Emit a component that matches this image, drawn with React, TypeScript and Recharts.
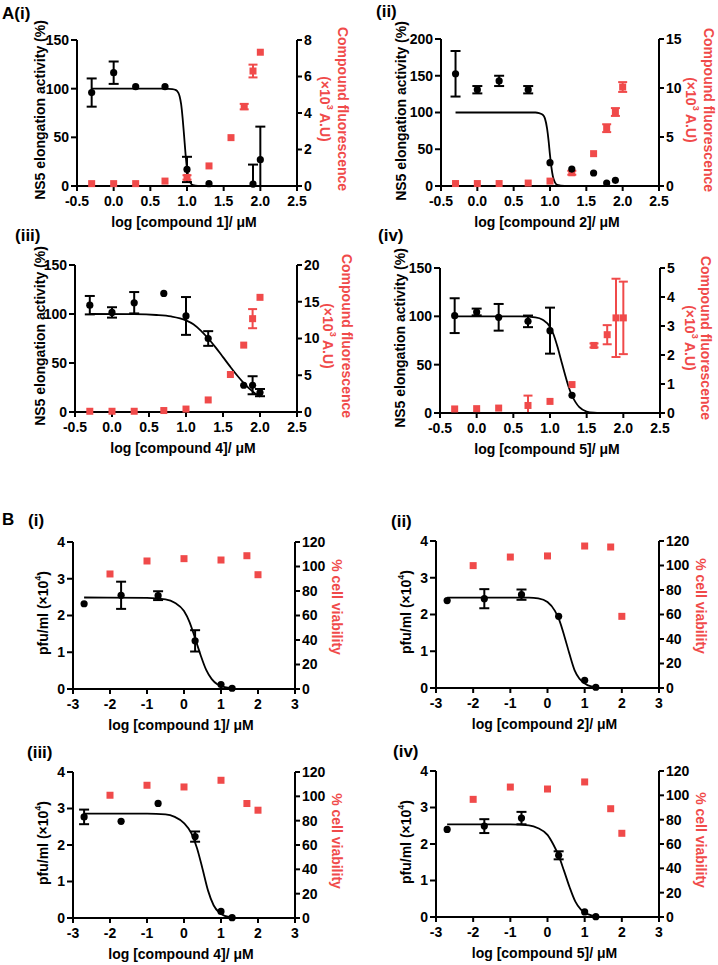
import React from "react";
import { ComposedChart, Scatter, Line, XAxis, YAxis, ErrorBar } from "recharts";

const RED = "#f04a4a";
const FONT = "'Liberation Sans', Arial, sans-serif";

type Pt = { x: number; y: number; e?: number | [number, number] };

// ---- A: NS5 elongation activity (black, left) / compound fluorescence (red, right)
const a1Activity: Pt[] = [
  { x: -0.3, y: 96, e: 14.5 },
  { x: 0, y: 116.4, e: 11.5 },
  { x: 0.3, y: 102 },
  { x: 0.7, y: 102 },
  { x: 1.0, y: 17, e: 13 },
  { x: 1.3, y: 2.4 },
  { x: 1.9, y: 2, e: [2, 20] },
  { x: 2.0, y: 27, e: [27, 34] },
];
const a1Fluor: Pt[] = [
  { x: -0.3, y: 0.13 },
  { x: 0, y: 0.13 },
  { x: 0.3, y: 0.13 },
  { x: 0.7, y: 0.27 },
  { x: 1.0, y: 0.47, e: 0.12 },
  { x: 1.3, y: 1.1 },
  { x: 1.6, y: 2.65 },
  { x: 1.78, y: 4.35, e: 0.15 },
  { x: 1.9, y: 6.3, e: 0.35 },
  { x: 2.0, y: 7.33 },
];
const a1Fit: Pt[] = [
  { x: -0.3, y: 100 }, { x: 0.7, y: 100 }, { x: 0.8, y: 99.6 }, { x: 0.85, y: 98.5 },
  { x: 0.88, y: 96 }, { x: 0.9, y: 92 }, { x: 0.92, y: 84 }, { x: 0.94, y: 70 },
  { x: 0.96, y: 52 }, { x: 0.98, y: 33 }, { x: 1.0, y: 18 }, { x: 1.02, y: 9 },
  { x: 1.05, y: 3 }, { x: 1.08, y: 1 }, { x: 1.15, y: 0.1 }, { x: 2.0, y: 0 },
];

const a2Activity: Pt[] = [
  { x: -0.3, y: 152.7, e: 31 },
  { x: 0, y: 131, e: 5 },
  { x: 0.3, y: 143, e: 7 },
  { x: 0.7, y: 131, e: 5 },
  { x: 1.0, y: 31.8 },
  { x: 1.3, y: 23 },
  { x: 1.6, y: 17.7 },
  { x: 1.78, y: 4 },
  { x: 1.9, y: 7.7 },
];
const a2Fluor: Pt[] = [
  { x: -0.3, y: 0.25 },
  { x: 0, y: 0.25 },
  { x: 0.3, y: 0.25 },
  { x: 0.7, y: 0.3 },
  { x: 1.0, y: 0.5 },
  { x: 1.3, y: 1.35, e: 0.2 },
  { x: 1.6, y: 3.3 },
  { x: 1.78, y: 5.9, e: 0.4 },
  { x: 1.9, y: 7.55, e: 0.4 },
  { x: 2.0, y: 10.1, e: 0.5 },
];
const a2Fit: Pt[] = [
  { x: -0.3, y: 100 }, { x: 0.8, y: 100 }, { x: 0.85, y: 99.2 }, { x: 0.9, y: 97 },
  { x: 0.93, y: 92 }, { x: 0.96, y: 78 }, { x: 0.98, y: 62 }, { x: 1.0, y: 42 },
  { x: 1.02, y: 25 }, { x: 1.04, y: 13 }, { x: 1.07, y: 4.5 }, { x: 1.1, y: 1.5 },
  { x: 1.2, y: 0.1 }, { x: 2.0, y: 0 },
];

const a3Activity: Pt[] = [
  { x: -0.3, y: 109, e: 9.4 },
  { x: 0, y: 101.6, e: 5.3 },
  { x: 0.3, y: 111.5, e: 10.9 },
  { x: 0.7, y: 121 },
  { x: 1.0, y: 98, e: 19.3 },
  { x: 1.3, y: 75, e: 7.5 },
  { x: 1.78, y: 27.3 },
  { x: 1.9, y: 27.3, e: 9.2 },
  { x: 2.0, y: 19.8, e: 3.7 },
];
const a3Fluor: Pt[] = [
  { x: -0.3, y: 0.1 },
  { x: 0, y: 0.1 },
  { x: 0.3, y: 0.1 },
  { x: 0.7, y: 0.2 },
  { x: 1.0, y: 0.4 },
  { x: 1.3, y: 1.64 },
  { x: 1.6, y: 5.1 },
  { x: 1.78, y: 9.1 },
  { x: 1.9, y: 12.7, e: 1.3 },
  { x: 2.0, y: 15.6 },
];
const a3Fit: Pt[] = [
  { x: -0.3, y: 100 }, { x: 0.3, y: 99.8 }, { x: 0.6, y: 99 }, { x: 0.8, y: 97.5 },
  { x: 1.0, y: 93.5 }, { x: 1.1, y: 89.5 }, { x: 1.2, y: 83 }, { x: 1.3, y: 75 },
  { x: 1.4, y: 66 }, { x: 1.5, y: 56 }, { x: 1.6, y: 46 }, { x: 1.7, y: 36.5 },
  { x: 1.8, y: 28 }, { x: 1.9, y: 21 }, { x: 2.0, y: 15.5 },
];

const a4Activity: Pt[] = [
  { x: -0.3, y: 100.7, e: 18 },
  { x: 0, y: 104.5, e: 3.5 },
  { x: 0.3, y: 99, e: 13.8 },
  { x: 0.7, y: 94.8, e: 6 },
  { x: 1.0, y: 85.2, e: 23.8 },
  { x: 1.3, y: 18.3 },
];
const a4Fluor: Pt[] = [
  { x: -0.3, y: 0.14 },
  { x: 0, y: 0.15 },
  { x: 0.3, y: 0.17 },
  { x: 0.7, y: 0.26, e: [0.26, 0.34] },
  { x: 1.0, y: 0.4 },
  { x: 1.3, y: 0.98 },
  { x: 1.6, y: 2.33, e: 0.07 },
  { x: 1.78, y: 2.7, e: 0.33 },
  { x: 1.9, y: 3.28, e: 1.35 },
  { x: 2.0, y: 3.28, e: 1.25 },
];
const a4Fit: Pt[] = [
  { x: -0.3, y: 100 }, { x: 0.6, y: 100 }, { x: 0.8, y: 99 }, { x: 0.9, y: 96.5 },
  { x: 1.0, y: 89 }, { x: 1.05, y: 81 }, { x: 1.1, y: 69 }, { x: 1.15, y: 55 },
  { x: 1.2, y: 41 }, { x: 1.25, y: 28 }, { x: 1.3, y: 18 }, { x: 1.35, y: 11 },
  { x: 1.4, y: 6 }, { x: 1.5, y: 1.5 }, { x: 1.6, y: 0.3 }, { x: 1.7, y: 0 },
];

// ---- B: virus titre (black, left) / cell viability (red, right)
const b1Titer: Pt[] = [
  { x: -2.7, y: 2.32 },
  { x: -1.7, y: 2.55, e: 0.37 },
  { x: -0.7, y: 2.54, e: 0.12 },
  { x: 0.3, y: 1.31, e: 0.29 },
  { x: 1.0, y: 0.12 },
  { x: 1.3, y: 0.02 },
];
const b1Viability: Pt[] = [
  { x: -2, y: 93.9 }, { x: -1, y: 104.5 }, { x: 0, y: 106.4 },
  { x: 1, y: 105.3 }, { x: 1.7, y: 108.8 }, { x: 2, y: 93.3 },
];
const b1Fit: Pt[] = [
  { x: -2.7, y: 2.49 }, { x: -1, y: 2.48 }, { x: -0.5, y: 2.44 }, { x: -0.25, y: 2.35 },
  { x: 0, y: 2.12 }, { x: 0.15, y: 1.82 }, { x: 0.3, y: 1.38 }, { x: 0.45, y: 0.92 },
  { x: 0.6, y: 0.52 }, { x: 0.75, y: 0.27 }, { x: 0.9, y: 0.13 }, { x: 1.1, y: 0.05 },
  { x: 1.3, y: 0.02 },
];

const b2Titer: Pt[] = [
  { x: -2.7, y: 2.38 },
  { x: -1.7, y: 2.43, e: 0.26 },
  { x: -0.7, y: 2.54, e: 0.14 },
  { x: 0.3, y: 1.95 },
  { x: 1.0, y: 0.21 },
  { x: 1.3, y: 0.02 },
];
const b2Viability: Pt[] = [
  { x: -2, y: 99.9 }, { x: -1, y: 106.9 }, { x: 0, y: 107.8 },
  { x: 1, y: 115.9 }, { x: 1.7, y: 115.1 }, { x: 2, y: 58.5 },
];
const b2Fit: Pt[] = [
  { x: -2.7, y: 2.46 }, { x: -0.5, y: 2.46 }, { x: -0.25, y: 2.44 }, { x: 0, y: 2.34 },
  { x: 0.2, y: 2.1 }, { x: 0.32, y: 1.84 }, { x: 0.46, y: 1.39 }, { x: 0.59, y: 0.93 },
  { x: 0.73, y: 0.48 }, { x: 0.86, y: 0.25 }, { x: 1.09, y: 0.07 }, { x: 1.3, y: 0.02 },
];

const b3Titer: Pt[] = [
  { x: -2.7, y: 2.77, e: 0.2 },
  { x: -1.7, y: 2.65 },
  { x: -0.7, y: 3.14 },
  { x: 0.3, y: 2.23, e: 0.14 },
  { x: 1.0, y: 0.18 },
  { x: 1.3, y: 0.01 },
];
const b3Viability: Pt[] = [
  { x: -2, y: 100.9 }, { x: -1, y: 109.1 }, { x: 0, y: 107.7 },
  { x: 1, y: 113.2 }, { x: 1.7, y: 94.1 }, { x: 2, y: 88.6 },
];
const b3Fit: Pt[] = [
  { x: -2.7, y: 2.86 }, { x: -1, y: 2.86 }, { x: -0.5, y: 2.84 }, { x: -0.25, y: 2.77 },
  { x: 0, y: 2.6 }, { x: 0.2, y: 2.32 }, { x: 0.35, y: 1.92 }, { x: 0.5, y: 1.35 },
  { x: 0.65, y: 0.75 }, { x: 0.8, y: 0.35 }, { x: 0.95, y: 0.15 }, { x: 1.1, y: 0.06 },
  { x: 1.3, y: 0.02 },
];

const b4Titer: Pt[] = [
  { x: -2.7, y: 2.4 },
  { x: -1.7, y: 2.49, e: 0.19 },
  { x: -0.7, y: 2.71, e: 0.17 },
  { x: 0.3, y: 1.69, e: 0.11 },
  { x: 1.0, y: 0.14 },
  { x: 1.3, y: 0.01 },
];
const b4Viability: Pt[] = [
  { x: -2, y: 96.7 }, { x: -1, y: 106.8 }, { x: 0, y: 105.2 },
  { x: 1, y: 111 }, { x: 1.7, y: 89 }, { x: 2, y: 68.8 },
];
const b4Fit: Pt[] = [
  { x: -2.7, y: 2.54 }, { x: -1, y: 2.54 }, { x: -0.5, y: 2.51 }, { x: -0.25, y: 2.43 },
  { x: 0, y: 2.25 }, { x: 0.15, y: 2.0 }, { x: 0.3, y: 1.68 }, { x: 0.45, y: 1.25 },
  { x: 0.6, y: 0.8 }, { x: 0.75, y: 0.42 }, { x: 0.9, y: 0.2 }, { x: 1.1, y: 0.07 },
  { x: 1.3, y: 0.02 },
];

// ---- ticks
const aXTicks = [-0.5, 0, 0.5, 1, 1.5, 2, 2.5];
const bXTicks = [-3, -2, -1, 0, 1, 2, 3];
const a150Ticks = [0, 50, 100, 150];
const a200Ticks = [0, 50, 100, 150, 200];
const a1RightTicks = [0, 2, 4, 6, 8];
const a2RightTicks = [0, 5, 10, 15];
const a3RightTicks = [0, 5, 10, 15, 20];
const a4RightTicks = [0, 1, 2, 3, 4, 5];
const bLeftTicks = [0, 1, 2, 3, 4];
const bRightTicks = [0, 20, 40, 60, 80, 100, 120];

type Box = { x0: number; x1: number; top: number; bottom: number };

const tickStyle = { fill: "#000", fontSize: 14, fontWeight: "bold", fontFamily: FONT };
const axisStroke = { stroke: "#000", strokeWidth: 2 };

const PADL = 50;
const PADR = 50;
const PADT = 12;
const PADB = 45;

const blackDot = (p: any) => <circle cx={p.cx} cy={p.cy} r={3.6} fill="#000" />;
const redSquare = (p: any) => (
  <rect x={p.cx - 3.5} y={p.cy - 3.5} width={7} height={7} fill={RED} />
);

function Panel(props: {
  box: Box;
  xTicks: number[];
  xFmt: (v: number) => string;
  leftTicks: number[];
  rightTicks: number[];
  black: Pt[];
  red: Pt[];
  fit: Pt[];
}) {
  const { box, xTicks, xFmt, leftTicks, rightTicks, black, red, fit } = props;
  const w = box.x1 - box.x0 + PADL + PADR;
  const h = box.bottom - box.top + PADT + PADB;
  return (
    <div style={{ position: "absolute", left: box.x0 - PADL, top: box.top - PADT, width: w, height: h }}>
      <ComposedChart width={w} height={h} margin={{ top: PADT, right: 0, bottom: 0, left: 0 }}>
        <XAxis
          type="number"
          dataKey="x"
          domain={[xTicks[0], xTicks[xTicks.length - 1]]}
          ticks={xTicks}
          interval={0}
          height={PADB}
          tickFormatter={xFmt}
          axisLine={axisStroke}
          tickLine={axisStroke}
          tickSize={5}
          tickMargin={5}
          tick={tickStyle}
        />
        <YAxis
          yAxisId="l"
          orientation="left"
          type="number"
          dataKey="y"
          domain={[leftTicks[0], leftTicks[leftTicks.length - 1]]}
          ticks={leftTicks}
          interval={0}
          width={PADL}
          axisLine={axisStroke}
          tickLine={axisStroke}
          tickSize={6}
          tickMargin={2}
          tick={tickStyle}
        />
        <YAxis
          yAxisId="r"
          orientation="right"
          type="number"
          dataKey="y"
          domain={[rightTicks[0], rightTicks[rightTicks.length - 1]]}
          ticks={rightTicks}
          interval={0}
          width={PADR}
          axisLine={axisStroke}
          tickLine={axisStroke}
          tickSize={5}
          tickMargin={2}
          tick={tickStyle}
        />
        <Line
          yAxisId="l"
          data={fit}
          dataKey="y"
          type="monotone"
          stroke="#000"
          strokeWidth={1.8}
          dot={false}
          activeDot={false}
          isAnimationActive={false}
        />
        <Scatter yAxisId="r" data={red} shape={redSquare} isAnimationActive={false}>
          <ErrorBar dataKey="e" direction="y" width={4.5} stroke={RED} strokeWidth={2} />
        </Scatter>
        <Scatter yAxisId="l" data={black} shape={blackDot} isAnimationActive={false}>
          <ErrorBar dataKey="e" direction="y" width={5} stroke="#000" strokeWidth={2} />
        </Scatter>
      </ComposedChart>
    </div>
  );
}

const textBase: React.CSSProperties = {
  position: "absolute",
  fontFamily: FONT,
  fontWeight: "bold",
  fontSize: 14,
  lineHeight: "16px",
  whiteSpace: "nowrap",
  color: "#000",
};

function Txt(props: { x: number; y: number; rot?: number; color?: string; size?: number; left?: boolean; children: React.ReactNode }) {
  const { x, y, rot = 0, color = "#000", size = 14, left = false } = props;
  const transform = left ? "translate(0, -50%)" : `translate(-50%, -50%) rotate(${rot}deg)`;
  return (
    <div style={{ ...textBase, left: x, top: y, color, fontSize: size, lineHeight: `${size + 2}px`, transform }}>
      {props.children}
    </div>
  );
}

const sup = (s: string) => (
  <span style={{ fontSize: 9, verticalAlign: "top", lineHeight: "10px", position: "relative", top: -2 }}>{s}</span>
);

const fmt1 = (v: number) => v.toFixed(1);
const fmt0 = (v: number) => String(v);

export default function App() {
  const boxes = {
    a1: { x0: 77, x1: 297, top: 40, bottom: 186 },
    a2: { x0: 441, x1: 659, top: 39, bottom: 186 },
    a3: { x0: 75, x1: 297, top: 265, bottom: 412 },
    a4: { x0: 440, x1: 660, top: 268, bottom: 413 },
    b1: { x0: 73, x1: 295, top: 542, bottom: 689 },
    b2: { x0: 436, x1: 659, top: 541, bottom: 688 },
    b3: { x0: 73, x1: 295, top: 772, bottom: 918 },
    b4: { x0: 436, x1: 659, top: 771, bottom: 917 },
  };
  const nsLabel = "NS5 elongation activity (%)";
  const fluo1 = "Compound fluorescence";
  const fluo2 = <>(×10{sup("3")} A.U)</>;
  const pfu = <>pfu/ml (×10{sup("4")})</>;
  const via = "% cell viability";

  const xl = (b: Box) => (b.x0 + b.x1) / 2 - 3;

  return (
    <div style={{ position: "absolute", left: 0, top: 0, width: 718, height: 965, background: "#fff", overflow: "hidden" }}>
      <Panel box={boxes.a1} xTicks={aXTicks} xFmt={fmt1} leftTicks={a150Ticks} rightTicks={a1RightTicks} black={a1Activity} red={a1Fluor} fit={a1Fit} />
      <Panel box={boxes.a2} xTicks={aXTicks} xFmt={fmt1} leftTicks={a200Ticks} rightTicks={a2RightTicks} black={a2Activity} red={a2Fluor} fit={a2Fit} />
      <Panel box={boxes.a3} xTicks={aXTicks} xFmt={fmt1} leftTicks={a150Ticks} rightTicks={a3RightTicks} black={a3Activity} red={a3Fluor} fit={a3Fit} />
      <Panel box={boxes.a4} xTicks={aXTicks} xFmt={fmt1} leftTicks={a150Ticks} rightTicks={a4RightTicks} black={a4Activity} red={a4Fluor} fit={a4Fit} />
      <Panel box={boxes.b1} xTicks={bXTicks} xFmt={fmt0} leftTicks={bLeftTicks} rightTicks={bRightTicks} black={b1Titer} red={b1Viability} fit={b1Fit} />
      <Panel box={boxes.b2} xTicks={bXTicks} xFmt={fmt0} leftTicks={bLeftTicks} rightTicks={bRightTicks} black={b2Titer} red={b2Viability} fit={b2Fit} />
      <Panel box={boxes.b3} xTicks={bXTicks} xFmt={fmt0} leftTicks={bLeftTicks} rightTicks={bRightTicks} black={b3Titer} red={b3Viability} fit={b3Fit} />
      <Panel box={boxes.b4} xTicks={bXTicks} xFmt={fmt0} leftTicks={bLeftTicks} rightTicks={bRightTicks} black={b4Titer} red={b4Viability} fit={b4Fit} />

      {/* panel tags */}
      <Txt x={2} y={12.5} size={17} left>A(i)</Txt>
      <Txt x={376} y={10.5} size={17} left>(ii)</Txt>
      <Txt x={15} y={235} size={17} left>(iii)</Txt>
      <Txt x={378} y={234.5} size={17} left>(iv)</Txt>
      <Txt x={2} y={519} size={17} left>B</Txt>
      <Txt x={28} y={520} size={17} left>(i)</Txt>
      <Txt x={391} y={521} size={17} left>(ii)</Txt>
      <Txt x={27} y={752} size={17} left>(iii)</Txt>
      <Txt x={393} y={751} size={17} left>(iv)</Txt>

      {/* x axis titles */}
      <Txt x={xl(boxes.a1)} y={boxes.a1.bottom + 36}>log [compound 1]/ μM</Txt>
      <Txt x={xl(boxes.a2)} y={boxes.a2.bottom + 36}>log [compound 2]/ μM</Txt>
      <Txt x={xl(boxes.a3)} y={boxes.a3.bottom + 36}>log [compound 4]/ μM</Txt>
      <Txt x={xl(boxes.a4)} y={boxes.a4.bottom + 36}>log [compound 5]/ μM</Txt>
      <Txt x={xl(boxes.b1)} y={boxes.b1.bottom + 36}>log [compound 1]/ μM</Txt>
      <Txt x={xl(boxes.b2)} y={boxes.b2.bottom + 36}>log [compound 2]/ μM</Txt>
      <Txt x={xl(boxes.b3)} y={boxes.b3.bottom + 36}>log [compound 4]/ μM</Txt>
      <Txt x={xl(boxes.b4)} y={boxes.b4.bottom + 36}>log [compound 5]/ μM</Txt>

      {/* left y titles */}
      <Txt x={40} y={110} rot={-90}>{nsLabel}</Txt>
      <Txt x={401} y={111} rot={-90}>{nsLabel}</Txt>
      <Txt x={40} y={336} rot={-90}>{nsLabel}</Txt>
      <Txt x={400} y={338} rot={-90}>{nsLabel}</Txt>
      <Txt x={43} y={613} rot={-90}>{pfu}</Txt>
      <Txt x={406} y={612} rot={-90}>{pfu}</Txt>
      <Txt x={43} y={843} rot={-90}>{pfu}</Txt>
      <Txt x={406} y={842} rot={-90}>{pfu}</Txt>

      {/* right y titles */}
      <Txt x={343} y={109} rot={90} color={RED}>{fluo1}</Txt>
      <Txt x={325} y={109} rot={90} color={RED}>{fluo2}</Txt>
      <Txt x={709} y={110} rot={90} color={RED}>{fluo1}</Txt>
      <Txt x={691} y={110} rot={90} color={RED}>{fluo2}</Txt>
      <Txt x={347} y={336} rot={90} color={RED}>{fluo1}</Txt>
      <Txt x={328} y={336} rot={90} color={RED}>{fluo2}</Txt>
      <Txt x={706} y={338} rot={90} color={RED}>{fluo1}</Txt>
      <Txt x={690} y={338} rot={90} color={RED}>{fluo2}</Txt>
      <Txt x={337} y={607} rot={90} color={RED}>{via}</Txt>
      <Txt x={701} y={606} rot={90} color={RED}>{via}</Txt>
      <Txt x={337} y={841} rot={90} color={RED}>{via}</Txt>
      <Txt x={701} y={840} rot={90} color={RED}>{via}</Txt>
    </div>
  );
}
